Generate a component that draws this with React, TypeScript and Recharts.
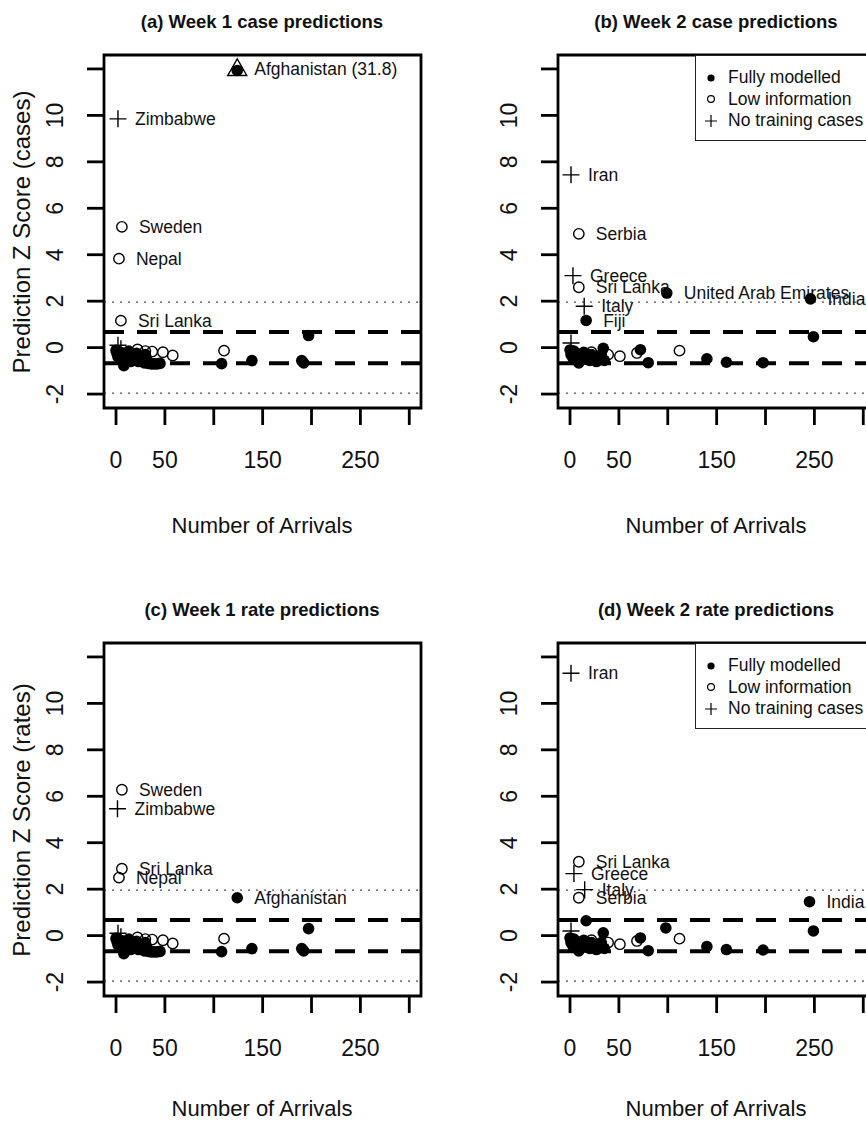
import React from 'react';
import {
  ScatterChart,
  Scatter,
  XAxis,
  YAxis,
  ReferenceLine,
  ReferenceArea,
  Legend
} from 'recharts';

const FONT = '"Liberation Sans", Arial, Helvetica, sans-serif';

type Pt = { x: number; y: number; label?: string };

// axis setup shared by all four panels
const xTicks = [0, 50, 100, 150, 200, 250, 300];
const xTickLabels = [0, 50, 150, 250];
const yTicks = [-2, 0, 2, 4, 6, 8, 10, 12];
const yTickLabels = [-2, 0, 2, 4, 6, 8, 10];
const xDomain: [number, number] = [-12.3, 312];
const yDomain: [number, number] = [-2.6, 12.6];
const innerBand = 0.674;
const outerBand = 1.96;

// week 1 (panels a, c) - the busy group near zero arrivals
const week1Cluster: Pt[] = [
  { x: 0, y: -0.12 }, { x: 1, y: -0.25 }, { x: 2, y: -0.4 }, { x: 3, y: -0.18 },
  { x: 4, y: -0.3 }, { x: 5, y: -0.5 }, { x: 6, y: -0.22 }, { x: 8, y: -0.78 },
  { x: 9, y: -0.4 }, { x: 10, y: -0.28 }, { x: 12, y: -0.5 }, { x: 13, y: -0.15 },
  { x: 15, y: -0.6 }, { x: 17, y: -0.35 }, { x: 19, y: -0.45 }, { x: 21, y: -0.25 },
  { x: 23, y: -0.6 }, { x: 25, y: -0.4 }, { x: 27, y: -0.55 }, { x: 29, y: -0.66 },
  { x: 30, y: -0.3 }, { x: 31, y: -0.45 }, { x: 33, y: -0.68 }, { x: 36, y: -0.7 },
  { x: 39, y: -0.7 }, { x: 42, y: -0.7 }, { x: 45, y: -0.68 }
];
const week1LowCluster: Pt[] = [
  { x: 22, y: -0.08 }, { x: 30, y: -0.15 }, { x: 37, y: -0.17 },
  { x: 48, y: -0.2 }, { x: 58, y: -0.34 }, { x: 110.5, y: -0.13 }
];

// week 2 (panels b, d)
const week2Cluster: Pt[] = [
  { x: 0, y: -0.1 }, { x: 1, y: -0.3 }, { x: 2, y: -0.2 }, { x: 3, y: -0.45 },
  { x: 4, y: -0.15 }, { x: 5, y: -0.35 }, { x: 6, y: -0.25 }, { x: 7, y: -0.5 },
  { x: 9, y: -0.66 }, { x: 10, y: -0.3 }, { x: 12, y: -0.4 }, { x: 14, y: -0.2 },
  { x: 16, y: -0.5 }, { x: 18, y: -0.35 }, { x: 20, y: -0.55 }, { x: 22, y: -0.3 },
  { x: 24, y: -0.45 }, { x: 27, y: -0.6 }, { x: 30, y: -0.5 }, { x: 32, y: -0.3 },
  { x: 35, y: -0.55 }
];
const week2LowCluster: Pt[] = [
  { x: 16, y: -0.25 }, { x: 22, y: -0.2 }, { x: 39, y: -0.3 },
  { x: 51, y: -0.37 }, { x: 68.5, y: -0.23 }, { x: 112, y: -0.13 }
];

// (a) week 1 cases
const fullA: Pt[] = [
  ...week1Cluster,
  { x: 108, y: -0.69 }, { x: 139, y: -0.56 }, { x: 190, y: -0.56 },
  { x: 192, y: -0.66 }, { x: 197, y: 0.52 }
];
const lowA: Pt[] = [
  { x: 6, y: 5.2, label: 'Sweden' },
  { x: 3, y: 3.83, label: 'Nepal' },
  { x: 5, y: 1.16, label: 'Sri Lanka' },
  ...week1LowCluster
];
const noneA: Pt[] = [
  { x: 2, y: 9.85, label: 'Zimbabwe' },
  { x: 2, y: 0.1 }, { x: 5, y: -0.05 }
];
const offScaleA: Pt[] = [{ x: 124, y: 12, label: 'Afghanistan (31.8)' }];

// (b) week 2 cases
const fullB: Pt[] = [
  ...week2Cluster,
  { x: 34, y: -0.03 },
  { x: 16.5, y: 1.17, label: 'Fiji' },
  { x: 99, y: 2.35, label: 'United Arab Emirates' },
  { x: 246, y: 2.1, label: 'India' },
  { x: 249, y: 0.47 }, { x: 72, y: -0.09 }, { x: 80, y: -0.65 },
  { x: 140, y: -0.48 }, { x: 160, y: -0.63 }, { x: 197.5, y: -0.65 }
];
const lowB: Pt[] = [
  { x: 9, y: 4.9, label: 'Serbia' },
  { x: 9, y: 2.6, label: 'Sri Lanka' },
  ...week2LowCluster
];
const noneB: Pt[] = [
  { x: 1, y: 7.44, label: 'Iran' },
  { x: 3, y: 3.1, label: 'Greece' },
  { x: 14.5, y: 1.78, label: 'Italy' },
  { x: 1, y: 0.2 }
];

// (c) week 1 rates
const fullC: Pt[] = [
  ...week1Cluster,
  { x: 124, y: 1.63, label: 'Afghanistan' },
  { x: 108, y: -0.69 }, { x: 139, y: -0.56 }, { x: 190, y: -0.56 },
  { x: 192, y: -0.66 }, { x: 197, y: 0.3 }
];
const lowC: Pt[] = [
  { x: 6, y: 6.28, label: 'Sweden' },
  { x: 6, y: 2.88, label: 'Sri Lanka' },
  { x: 3, y: 2.5, label: 'Nepal' },
  ...week1LowCluster
];
const noneC: Pt[] = [
  { x: 1.5, y: 5.46, label: 'Zimbabwe' },
  { x: 2, y: 0.1 }, { x: 5, y: -0.05 }
];

// (d) week 2 rates
const fullD: Pt[] = [
  ...week2Cluster,
  { x: 34, y: 0.12 },
  { x: 16.5, y: 0.64 }, { x: 98, y: 0.33 },
  { x: 245, y: 1.46, label: 'India' },
  { x: 249, y: 0.2 }, { x: 72, y: -0.1 }, { x: 80, y: -0.65 },
  { x: 140, y: -0.47 }, { x: 160, y: -0.6 }, { x: 197.5, y: -0.62 }
];
const lowD: Pt[] = [
  { x: 9, y: 3.18, label: 'Sri Lanka' },
  { x: 9, y: 1.63, label: 'Serbia' },
  ...week2LowCluster
];
const noneD: Pt[] = [
  { x: 1, y: 11.3, label: 'Iran' },
  { x: 4, y: 2.67, label: 'Greece' },
  { x: 15, y: 1.98, label: 'Italy' },
  { x: 1, y: 0.2 }
];

const PointLabel = ({ cx, cy, text }: { cx: number; cy: number; text?: string }) =>
  text ? (
    <text x={cx + 17} y={cy} dy="0.35em" fontSize={17.5} fontFamily={FONT} fill="#111">
      {text}
    </text>
  ) : null;

const filledShape = (p: any) => (
  <g>
    <circle cx={p.cx} cy={p.cy} r={5.8} fill="#000" />
    <PointLabel cx={p.cx} cy={p.cy} text={p.payload?.label} />
  </g>
);

const openShape = (p: any) => (
  <g>
    <circle cx={p.cx} cy={p.cy} r={5.2} fill="#fff" fillOpacity={0} stroke="#000" strokeWidth={1.4} />
    <PointLabel cx={p.cx} cy={p.cy} text={p.payload?.label} />
  </g>
);

const plusShape = (p: any) => (
  <g>
    <path
      d={`M${p.cx - 8.5},${p.cy}H${p.cx + 8.5}M${p.cx},${p.cy - 8.5}V${p.cy + 8.5}`}
      stroke="#000"
      strokeWidth={1.4}
    />
    <PointLabel cx={p.cx} cy={p.cy} text={p.payload?.label} />
  </g>
);

// value beyond the axis: triangle outline with a dot over it
const offScaleShape = (p: any) => (
  <g>
    <path
      d={`M${p.cx},${p.cy - 10}L${p.cx + 9.5},${p.cy + 6.5}L${p.cx - 9.5},${p.cy + 6.5}Z`}
      fill="none"
      stroke="#000"
      strokeWidth={1.4}
    />
    <circle cx={p.cx} cy={p.cy + 1.5} r={5.8} fill="#000" />
    <PointLabel cx={p.cx} cy={p.cy} text={p.payload?.label} />
  </g>
);

const XTick = (p: any) => {
  const v = p.payload.value;
  if (!xTickLabels.includes(v)) return <g />;
  return (
    <text x={p.x} y={p.y} dy={43} textAnchor="middle" fontSize={23} fontFamily={FONT} fill="#111">
      {v}
    </text>
  );
};

const YTick = (p: any) => {
  const v = p.payload.value;
  if (!yTickLabels.includes(v)) return <g />;
  const cx = p.x - 32;
  return (
    <text
      x={cx}
      y={p.y}
      dy="0.35em"
      textAnchor="middle"
      fontSize={23}
      fontFamily={FONT}
      fill="#111"
      transform={`rotate(-90, ${cx}, ${p.y})`}
    >
      {v}
    </text>
  );
};

const legendSymbol = (name: string) => {
  if (name === 'Fully modelled') return <circle cx={10} cy={10} r={3.6} fill="#000" />;
  if (name === 'Low information')
    return <circle cx={10} cy={10} r={3.4} fill="none" stroke="#000" strokeWidth={1.2} />;
  return <path d="M4,10H16M10,4V16" stroke="#000" strokeWidth={1.2} />;
};

const LegendBox = (props: any) => (
  <div
    style={{
      width: 210,
      height: 86,
      boxSizing: 'border-box',
      border: '1px solid #222',
      background: '#fff',
      padding: '11px 0 0 5px',
      fontFamily: FONT,
      fontSize: 17.5,
      color: '#111'
    }}
  >
    {(props.payload || []).map((e: any) => (
      <div key={e.value} style={{ display: 'flex', alignItems: 'center', height: 21.5, whiteSpace: 'nowrap' }}>
        <svg width={20} height={20}>{legendSymbol(e.value)}</svg>
        <span style={{ marginLeft: 7 }}>{e.value}</span>
      </div>
    ))}
  </div>
);

interface PanelProps {
  left: number;
  top: number;
  width: number;
  height: number;
  margin: { top: number; right: number; bottom: number; left: number };
  full: Pt[];
  low: Pt[];
  none: Pt[];
  offScale?: Pt[];
  legendPos?: { left: number; top: number };
}

const Panel = ({ left, top, width, height, margin, full, low, none, offScale, legendPos }: PanelProps) => (
  <div style={{ position: 'absolute', left, top }}>
    <ScatterChart width={width} height={height} margin={margin}>
      <XAxis
        type="number"
        dataKey="x"
        domain={xDomain}
        ticks={xTicks}
        interval={0}
        axisLine={false}
        tickLine={{ stroke: '#000', strokeWidth: 2.8 }}
        tickSize={17}
        tickMargin={0}
        height={60}
        tick={XTick}
      />
      <YAxis
        type="number"
        dataKey="y"
        domain={yDomain}
        ticks={yTicks}
        interval={0}
        axisLine={false}
        tickLine={{ stroke: '#000', strokeWidth: 2.8 }}
        tickSize={17}
        tickMargin={0}
        width={60}
        tick={YTick}
      />
      <ReferenceLine y={outerBand} stroke="#222" strokeWidth={1} strokeDasharray="2 6" />
      <ReferenceLine y={-outerBand} stroke="#222" strokeWidth={1} strokeDasharray="2 6" />
      <ReferenceLine y={innerBand} stroke="#000" strokeWidth={4} strokeDasharray="20 13" />
      <ReferenceLine y={-innerBand} stroke="#000" strokeWidth={4} strokeDasharray="20 13" />
      <ReferenceArea
        x1={xDomain[0]}
        x2={xDomain[1]}
        y1={yDomain[0]}
        y2={yDomain[1]}
        fill="none"
        fillOpacity={0}
        stroke="#000"
        strokeWidth={2.8}
      />
      <Scatter name="Fully modelled" data={full} shape={filledShape} isAnimationActive={false} />
      <Scatter name="Low information" data={low} shape={openShape} isAnimationActive={false} />
      <Scatter name="No training cases" data={none} shape={plusShape} isAnimationActive={false} />
      {offScale && (
        <Scatter name="Off scale" data={offScale} shape={offScaleShape} isAnimationActive={false} legendType="none" />
      )}
      {legendPos && (
        <Legend
          layout="horizontal"
          verticalAlign="middle"
          align="center"
          content={LegendBox}
          wrapperStyle={{ position: 'absolute', left: legendPos.left, top: legendPos.top, width: 'auto' }}
        />
      )}
    </ScatterChart>
  </div>
);

const Txt = ({ x, y, size, bold, rotate, children }: any) => (
  <div
    style={{
      position: 'absolute',
      left: x,
      top: y,
      transform: `translate(-50%, -50%)${rotate ? ' rotate(-90deg)' : ''}`,
      whiteSpace: 'nowrap',
      fontFamily: FONT,
      fontSize: size,
      fontWeight: bold ? 'bold' : 'normal',
      color: '#111',
      lineHeight: 1
    }}
  >
    {children}
  </div>
);

export default function App() {
  return (
    <div
      style={{
        position: 'absolute',
        left: 0,
        top: 0,
        width: 866,
        height: 1122,
        overflow: 'hidden',
        background: '#fff'
      }}
    >
      <Panel
        left={0}
        top={0}
        width={433}
        height={560}
        margin={{ top: 55, right: 12, bottom: 92, left: 44 }}
        full={fullA}
        low={lowA}
        none={noneA}
        offScale={offScaleA}
      />
      <Panel
        left={433}
        top={0}
        width={460}
        height={560}
        margin={{ top: 55, right: 18, bottom: 92, left: 65 }}
        full={fullB}
        low={lowB}
        none={noneB}
        legendPos={{ left: 262, top: 55 }}
      />
      <Panel
        left={0}
        top={560}
        width={433}
        height={562}
        margin={{ top: 83, right: 12, bottom: 66, left: 44 }}
        full={fullC}
        low={lowC}
        none={noneC}
      />
      <Panel
        left={433}
        top={560}
        width={460}
        height={562}
        margin={{ top: 83, right: 18, bottom: 66, left: 65 }}
        full={fullD}
        low={lowD}
        none={noneD}
        legendPos={{ left: 262, top: 83 }}
      />

      <Txt x={262} y={22} size={18.5} bold>(a) Week 1 case predictions</Txt>
      <Txt x={716} y={22} size={18.5} bold>(b) Week 2 case predictions</Txt>
      <Txt x={262} y={610} size={18.5} bold>(c) Week 1 rate predictions</Txt>
      <Txt x={716} y={610} size={18.5} bold>(d) Week 2 rate predictions</Txt>

      <Txt x={262} y={526} size={22}>Number of Arrivals</Txt>
      <Txt x={716} y={526} size={22}>Number of Arrivals</Txt>
      <Txt x={262} y={1109} size={22}>Number of Arrivals</Txt>
      <Txt x={716} y={1109} size={22}>Number of Arrivals</Txt>

      <Txt x={22} y={232} size={24}>
        <span style={{ display: 'inline-block', transform: 'rotate(-90deg)' }}>Prediction Z Score (cases)</span>
      </Txt>
      <Txt x={22} y={820} size={24}>
        <span style={{ display: 'inline-block', transform: 'rotate(-90deg)' }}>Prediction Z Score (rates)</span>
      </Txt>
    </div>
  );
}
